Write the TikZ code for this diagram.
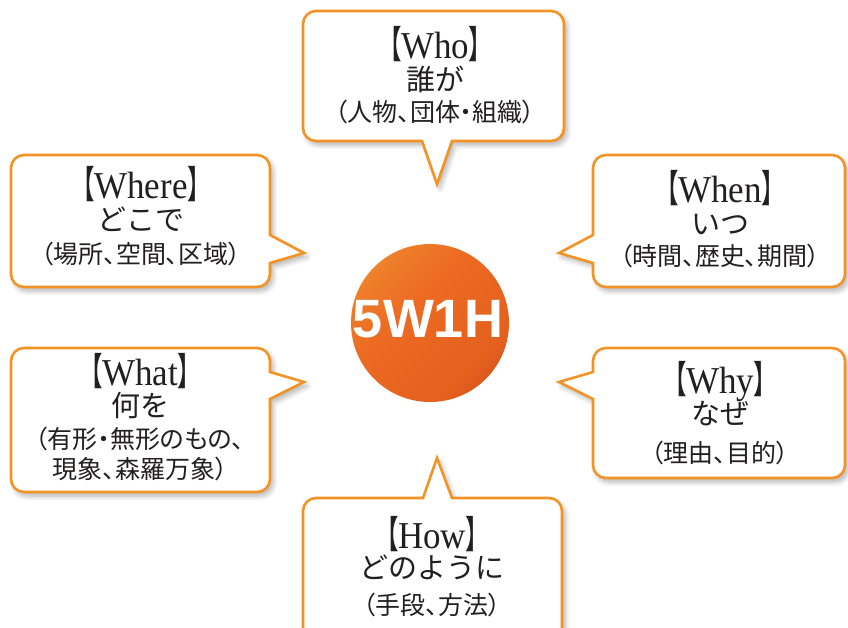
\documentclass[tikz,border=0pt]{standalone}
\usepackage{fontspec}
\usetikzlibrary{shadows.blur}
\newfontfamily\jpfont{Noto Sans CJK JP}
\newfontfamily\jppfont[RawFeature=+palt]{Noto Sans CJK JP}
\newfontfamily\brkfont[RawFeature=+palt, FakeStretch=0.62]{Noto Sans CJK JP}
\newfontfamily\latfont[FakeStretch=0.92]{Liberation Serif}
\newfontfamily\ballfont{Liberation Sans}
\definecolor{bord}{HTML}{F39325}
\definecolor{ink}{HTML}{231F20}
\definecolor{balla}{HTML}{F4A23C}
\definecolor{ballb}{HTML}{EE7E2A}
\definecolor{ballc}{HTML}{EC6A22}
\definecolor{balld}{HTML}{E4601E}
\definecolor{balle}{HTML}{C84A1E}
\pgfdeclarehorizontalshading{ballshade}{100bp}{color(0bp)=(balla); color(15bp)=(balla); color(27bp)=(ballb); color(42bp)=(ballc); color(70bp)=(balld); color(86bp)=(balle); color(100bp)=(balle)}
\newcommand\brk[1]{\raisebox{0pt}[\height][0pt]{\brkfont #1}}
\newcommand\headtxt[1]{\brk{【}{\latfont #1}\brk{】}}
\begin{document}
\begin{tikzpicture}[x=1pt,y=-1pt,
  bubble/.style={draw=bord, line width=2.6pt, fill=white, line join=miter,
    blur shadow={shadow xshift=3pt, shadow yshift=-4pt, shadow blur steps=6, shadow opacity=30, shadow blur radius=5pt}},
  head/.style={anchor=base, inner sep=0pt, text=ink, font=\fontsize{38}{42}\selectfont},
  kana/.style={anchor=base, inner sep=0pt, text=ink, font=\jpfont\fontsize{29}{34}\selectfont},
  paren/.style={anchor=base, inner sep=0pt, text=ink, font=\jppfont\fontsize{25}{30}\selectfont},
  ball/.style={circle, minimum size=158pt, inner sep=0pt, shading=ballshade, shading angle=-45},
  balltxt/.style={inner sep=0pt, text=white, font=\ballfont\bfseries\fontsize{54}{60}\selectfont},
]
\useasboundingbox (0,0) rectangle (848,627);
\clip (0,0) rectangle (848,627);

% Who (pointer down)
\path[bubble] (316,11) -- (551,11) arc[start angle=-90,end angle=0,radius=13]
  -- (564,128) arc[start angle=0,end angle=90,radius=13]
  -- (452,141) -- (437,184) -- (422,141)
  -- (316,141) arc[start angle=90,end angle=180,radius=13]
  -- (303,24) arc[start angle=180,end angle=270,radius=13] -- cycle;
% Where (pointer right)
\path[bubble] (24,155) -- (257,155) arc[start angle=-90,end angle=0,radius=13]
  -- (270,235) -- (304,253) -- (270,263)
  -- (270,274) arc[start angle=0,end angle=90,radius=13]
  -- (24,287) arc[start angle=90,end angle=180,radius=13]
  -- (11,168) arc[start angle=180,end angle=270,radius=13] -- cycle;
% When (pointer left)
\path[bubble] (606,155) -- (832,155) arc[start angle=-90,end angle=0,radius=13]
  -- (845,274) arc[start angle=0,end angle=90,radius=13]
  -- (606,287) arc[start angle=90,end angle=180,radius=13]
  -- (593,263) -- (559,253) -- (593,235)
  -- (593,168) arc[start angle=180,end angle=270,radius=13] -- cycle;
% What (pointer right)
\path[bubble] (24,348) -- (257,348) arc[start angle=-90,end angle=0,radius=13]
  -- (270,372) -- (304,382) -- (270,399)
  -- (270,479) arc[start angle=0,end angle=90,radius=13]
  -- (24,492) arc[start angle=90,end angle=180,radius=13]
  -- (11,361) arc[start angle=180,end angle=270,radius=13] -- cycle;
% Why (pointer left)
\path[bubble] (606,348) -- (832,348) arc[start angle=-90,end angle=0,radius=13]
  -- (845,465) arc[start angle=0,end angle=90,radius=13]
  -- (606,478) arc[start angle=90,end angle=180,radius=13]
  -- (593,399) -- (559,382) -- (593,372)
  -- (593,361) arc[start angle=180,end angle=270,radius=13] -- cycle;
% How (pointer up)
\path[bubble] (316,498) -- (423,498) -- (437,458) -- (452,498)
  -- (549,498) arc[start angle=-90,end angle=0,radius=13]
  -- (562,632) arc[start angle=0,end angle=90,radius=13]
  -- (316,645) arc[start angle=90,end angle=180,radius=13]
  -- (303,511) arc[start angle=180,end angle=270,radius=13] -- cycle;

% centre ball
\node[ball] (center) at (430,323) {};
\node[balltxt] (centerlabel) at (428,319) {5W1H};

% texts
\node[head]  (who1) at (435,58)  {\headtxt{Who}};
\node[kana]  (who2) at (435,90)  {誰が};
\node[paren] (who3) at (435,121) {（人物、団体・組織）};

\node[head]  (where1) at (141,198) {\headtxt{Where}};
\node[kana]  (where2) at (141,230) {どこで};
\node[paren] (where3) at (141,263) {（場所、空間、区域）};

\node[head]  (when1) at (720,202) {\headtxt{When}};
\node[kana]  (when2) at (720,234) {いつ};
\node[paren] (when3) at (720,265) {（時間、歴史、期間）};

\node[head]  (what1) at (140,385) {\headtxt{What}};
\node[kana]  (what2) at (140,416) {何を};
\node[paren] (what3) at (140,448) {（有形・無形のもの、};
\node[paren] (what4) at (140,478) {現象、森羅万象）};

\node[head]  (why1) at (720,393) {\headtxt{Why}};
\node[kana]  (why2) at (720,424) {なぜ};
\node[paren] (why3) at (720,462) {（理由、目的）};

\node[head]  (how1) at (432,548) {\headtxt{How}};
\node[kana]  (how2) at (432,578) {どのように};
\node[paren] (how3) at (432,614) {（手段、方法）};
\end{tikzpicture}
\end{document}
